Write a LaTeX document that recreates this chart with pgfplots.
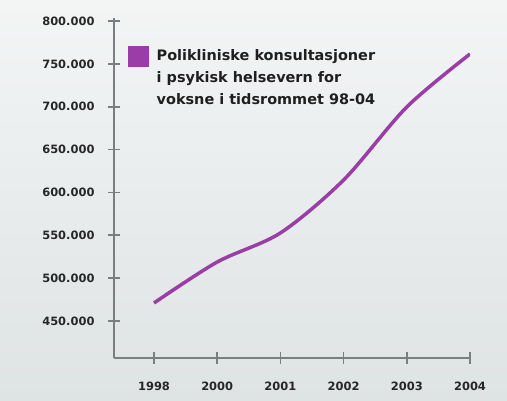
\documentclass[border=0pt]{standalone}
\usepackage{fontspec}
\setmainfont{DejaVu Sans}
\usepackage{pgfplots}
\pgfplotsset{compat=1.18}
\definecolor{lineP}{HTML}{9A3DA6}
\definecolor{axisG}{HTML}{7A7E80}
\definecolor{bgTop}{HTML}{F3F5F5}
\definecolor{bgBot}{HTML}{DEE3E4}
\begin{document}
\begin{tikzpicture}[x=1bp,y=1bp]
\useasboundingbox (0,0) rectangle (507,400);
\shade[top color=bgTop, bottom color=bgBot] (0,0) rectangle (507,400);
\begin{axis}[
  at={(114bp,42bp)}, anchor=south west,
  scale only axis, width=356bp, height=340bp,
  xmin=-0.633, xmax=5,
  ymin=406800, ymax=803500,
  scaled y ticks=false,
  axis x line=bottom, axis y line=left,
  x axis line style={-, line width=2bp, draw=axisG},
  y axis line style={-, line width=2bp, draw=axisG},
  xtick={0,1,2,3,4,5},
  xticklabels={1998,2000,2001,2002,2003,2004},
  ytick={450000,500000,550000,600000,650000,700000,750000,800000},
  yticklabels={450.000,500.000,550.000,600.000,650.000,700.000,750.000,800.000},
  tick align=center, major tick length=12bp,
  tick style={line width=1.6bp, draw=axisG},
  ticklabel style={font=\fontsize{11.5}{14}\selectfont\bfseries, text=black!85},
  yticklabel style={xshift=-10bp},
  xticklabel style={yshift=-14bp},
  legend style={draw=none, fill=none, at={(14bp,312bp)}, anchor=north west,
    inner sep=0pt, column sep=6bp,
    nodes={align=left, font=\fontsize{14.5}{22}\selectfont\bfseries, text=black!88, inner sep=2bp}},
  legend cell align=left,
  legend image code/.code={\fill[lineP] (0bp,13bp) rectangle (17bp,30bp);},
]
\addplot[lineP, line width=3.5bp, smooth] coordinates {
  (0,471000) (1,518800) (2,552700) (3,614500) (4,699700) (5,761500)
};
\addlegendentry{Polikliniske konsultasjoner\\i psykisk helsevern for\\voksne i tidsrommet 98-04}
\end{axis}
\end{tikzpicture}
\end{document}
